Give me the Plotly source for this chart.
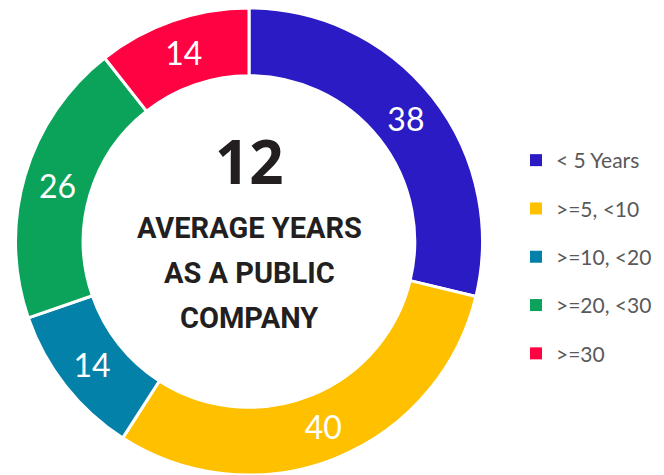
import plotly.graph_objects as go

categories = ["< 5 Years", ">=5, <10", ">=10, <20", ">=20, <30", ">=30"]
values = [38, 40, 14, 26, 14]
colors = ["#2A1BC4", "#FFC000", "#0381A9", "#0BA35A", "#FF0242"]
center_value = "12"
center_caption_lines = ["AVERAGE YEARS", "AS A PUBLIC", "COMPANY"]

W, H = 664, 475

fig = go.Figure()
fig.add_trace(go.Pie(
    labels=categories,
    values=values,
    marker=dict(colors=colors, line=dict(color="white", width=3)),
    hole=0.71,
    sort=False,
    direction="clockwise",
    rotation=0,
    textinfo="value",
    textposition="inside",
    insidetextorientation="horizontal",
    textfont=dict(family="Lato, sans-serif", size=32, color="white"),
    domain=dict(x=[14 / W, 484 / W], y=[0, 467 / H]),
    showlegend=False,
    hoverinfo="label+value",
))

for i, (c, col) in enumerate(zip(categories, colors)):
    fig.add_trace(go.Scatter(
        x=[None], y=[None], mode="markers", name=c,
        marker=dict(symbol="square", size=11, color=col),
        legendgroup=f"g{i}", showlegend=True,
    ))

fig.add_annotation(
    x=249 / W, y=1 - 161 / H, xref="paper", yref="paper",
    text="<b>" + center_value + "</b>", showarrow=False,
    font=dict(family="Open Sans, sans-serif", size=60, color="#231F20", weight=800),
    xanchor="center", yanchor="middle",
)
for k, line in enumerate(center_caption_lines):
    fig.add_annotation(
        x=249 / W, y=1 - (228 + 45 * k) / H, xref="paper", yref="paper",
        text="<b>" + line + "</b>", showarrow=False,
        font=dict(family="Roboto, sans-serif", size=29, color="#231F20"),
        xanchor="center", yanchor="middle",
    )

fig.update_layout(
    width=W, height=H,
    margin=dict(l=0, r=0, t=0, b=0, autoexpand=False),
    paper_bgcolor="white", plot_bgcolor="white",
    xaxis=dict(visible=False), yaxis=dict(visible=False),
    legend=dict(
        x=516 / W, y=1 - 140 / H, xanchor="left", yanchor="top",
        font=dict(family="Lato, sans-serif", size=21, color="#595959"),
        tracegroupgap=18, itemsizing="constant", bgcolor="rgba(0,0,0,0)",
    ),
)

fig.write_html(
    "out.html",
    config={"displayModeBar": False},
    post_script=(
        "document.body.style.margin='0';"
        "document.body.style.overflow='hidden';"
        "document.documentElement.style.overflow='hidden';"
    ),
)
